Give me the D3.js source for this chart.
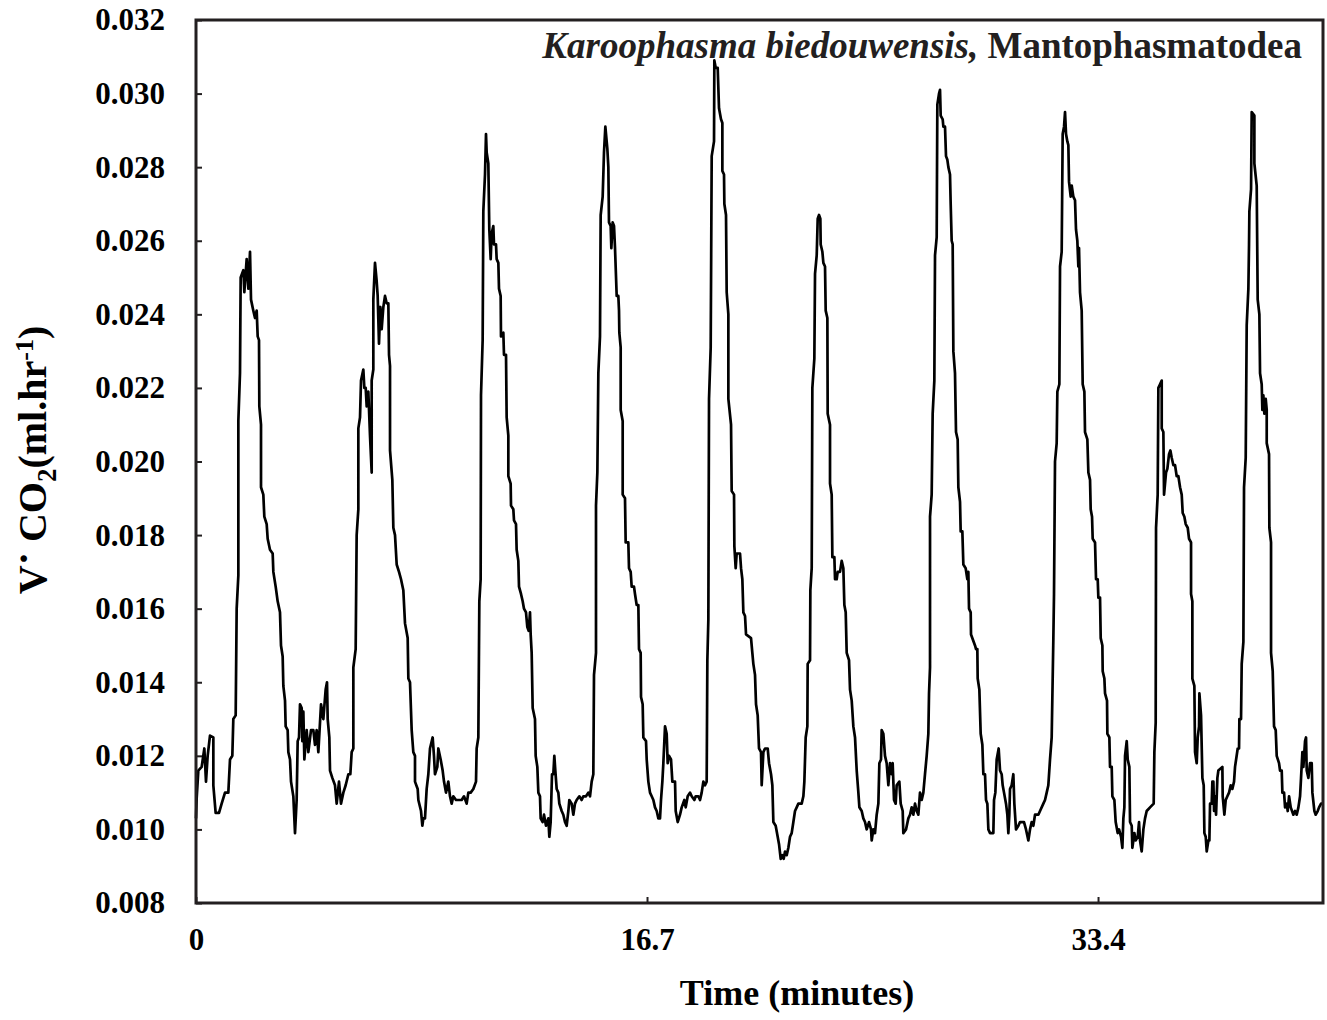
<!DOCTYPE html>
<html>
<head>
<meta charset="utf-8">
<script src="https://cdn.jsdelivr.net/npm/d3@7"></script>
<style>
  body { margin: 0; background: #fff; }
  svg { display: block; }
</style>
</head>
<body>
<svg id="chart" width="1327" height="1020"></svg>
<script>
// Axis ticks and labels
const xTicks = [0, 16.7, 33.4];
const xTickLabels = ["0", "16.7", "33.4"];
const yTicks = [0.008, 0.010, 0.012, 0.014, 0.016, 0.018, 0.020, 0.022, 0.024, 0.026, 0.028, 0.030, 0.032];
const yTickLabels = ["0.008", "0.010", "0.012", "0.014", "0.016", "0.018", "0.020", "0.022", "0.024", "0.026", "0.028", "0.030", "0.032"];
const xDomain = [0, 41.73];
const yDomain = [0.008, 0.032];

// CO2 emission trace: [time (minutes), VCO2 (ml/hr)]
const trace = [
  [0,0.0103],[0.025,0.01085],[0.086,0.0116],[0.210,0.0117],[0.309,0.0122],[0.370,0.0113],[0.432,0.0120],[0.518,0.01255],
  [0.642,0.0125],[0.642,0.0112],[0.728,0.01045],[0.852,0.01045],[0.950,0.0107],[1.074,0.0110],[1.197,0.0110],[1.259,0.0119],
  [1.345,0.0120],[1.382,0.0130],[1.469,0.0131],[1.506,0.0160],[1.568,0.0169],[1.568,0.0211],[1.629,0.0224],[1.654,0.0250],
  [1.753,0.0252],[1.790,0.0246],[1.876,0.0255],[1.938,0.0247],[2.000,0.0257],[2.037,0.0244],[2.123,0.0241],[2.185,0.0239],
  [2.247,0.0241],[2.284,0.0234],[2.333,0.0233],[2.345,0.0215],[2.407,0.0210],[2.407,0.0193],[2.493,0.0191],[2.530,0.0185],
  [2.617,0.0183],[2.654,0.0179],[2.740,0.0176],[2.839,0.0175],[2.864,0.0170],[2.950,0.0166],[3.024,0.0162],[3.110,0.0159],
  [3.147,0.0150],[3.209,0.0147],[3.234,0.0139],[3.296,0.0135],[3.320,0.0128],[3.394,0.0127],[3.419,0.0121],[3.481,0.0119],
  [3.518,0.0113],[3.604,0.0109],[3.666,0.0099],[3.727,0.0108],[3.765,0.0124],[3.814,0.0125],[3.851,0.0134],[3.913,0.0133],
  [3.937,0.0124],[3.975,0.0132],[4.012,0.0119],[4.098,0.0127],[4.160,0.0121],[4.258,0.0127],[4.345,0.0127],[4.406,0.0123],
  [4.468,0.0127],[4.530,0.0121],[4.629,0.0134],[4.715,0.0130],[4.801,0.0138],[4.851,0.0140],[4.876,0.0130],[4.937,0.0125],
  [4.962,0.0116],[5.048,0.0114],[5.147,0.0112],[5.209,0.0107],[5.295,0.0113],[5.369,0.0107],[5.456,0.0110],[5.542,0.0112],
  [5.641,0.0115],[5.715,0.0115],[5.764,0.0121],[5.826,0.0122],[5.826,0.0144],[5.912,0.0149],[5.949,0.0180],[6.011,0.0187],
  [6.011,0.0209],[6.073,0.0212],[6.110,0.0222],[6.196,0.0225],[6.233,0.0220],[6.283,0.0220],[6.320,0.0215],[6.381,0.0219],
  [6.443,0.0207],[6.505,0.0197],[6.505,0.0222],[6.566,0.0225],[6.566,0.0244],[6.628,0.0254],[6.690,0.0249],[6.727,0.0245],
  [6.776,0.0232],[6.826,0.0242],[6.875,0.0236],[6.937,0.0242],[6.999,0.0245],[7.060,0.0243],[7.122,0.0243],[7.147,0.0229],
  [7.184,0.0226],[7.184,0.0203],[7.270,0.0195],[7.307,0.0182],[7.369,0.0180],[7.431,0.0172],[7.517,0.0170],[7.591,0.0168],
  [7.677,0.0165],[7.739,0.0156],[7.838,0.0152],[7.863,0.0141],[7.924,0.0140],[7.986,0.0127],[8.047,0.0121],[8.109,0.0120],
  [8.109,0.0113],[8.208,0.0111],[8.233,0.0108],[8.332,0.0105],[8.381,0.0101],[8.418,0.0103],
  [8.479,0.0103],[8.541,0.0111],[8.603,0.0115],[8.664,0.0122],[8.763,0.0125],[8.812,0.0120],[8.849,0.0115],[8.936,0.0117],
  [8.973,0.0122],[9.059,0.0119],[9.133,0.0116],[9.183,0.0113],[9.257,0.0110],[9.343,0.0113],[9.405,0.0109],[9.467,0.0107],
  [9.528,0.0109],[9.627,0.0108],[9.713,0.0108],[9.837,0.0108],[9.923,0.0109],[10.022,0.0107],[10.084,0.0110],[10.170,0.0110],
  [10.269,0.0111],[10.368,0.0113],[10.392,0.0122],[10.454,0.0125],[10.491,0.0162],[10.540,0.0168],[10.553,0.0218],[10.614,0.0233],
  [10.639,0.0268],[10.701,0.0278],[10.738,0.0289],[10.763,0.0284],[10.824,0.0281],[10.861,0.0263],[10.911,0.0255],[10.948,0.0262],
  [11.009,0.0264],[11.034,0.0259],[11.108,0.0259],[11.133,0.0255],[11.195,0.0254],[11.219,0.0247],[11.281,0.0245],[11.293,0.0234],
  [11.380,0.0235],[11.404,0.0229],[11.479,0.0229],[11.503,0.0212],[11.565,0.0207],[11.565,0.0196],[11.651,0.0194],[11.664,0.0188],
  [11.750,0.0187],[11.775,0.0184],[11.849,0.0183],[11.873,0.0176],[11.935,0.0173],[11.960,0.0166],[12.034,0.0164],[12.096,0.0162],
  [12.145,0.0160],[12.219,0.0159],[12.268,0.0155],[12.318,0.0154],[12.367,0.0159],[12.392,0.0153],[12.429,0.0148],[12.466,0.0133],
  [12.552,0.0130],[12.577,0.0120],[12.639,0.0117],[12.676,0.0110],[12.737,0.0109],[12.762,0.0103],[12.836,0.0102],[12.886,0.0104],
  [12.960,0.0101],[13.046,0.0103],[13.083,0.0098],[13.132,0.0102],[13.182,0.0115],[13.231,0.0115],[13.268,0.0120],[13.305,0.0116],
  [13.355,0.0111],[13.416,0.0110],[13.453,0.0107],[13.540,0.0105],[13.601,0.0104],[13.663,0.0102],[13.725,0.0101],[13.787,0.0105],
  [13.824,0.0108],[13.910,0.0107],[13.972,0.0104],[14.033,0.0107],[14.095,0.0108],[14.194,0.0109],[14.280,0.0108],[14.342,0.0109],
  [14.441,0.0109],[14.527,0.0110],[14.589,0.0109],[14.651,0.0113],[14.712,0.0115],[14.737,0.0142],[14.811,0.0148],[14.811,0.0188],
  [14.861,0.0197],[14.898,0.0224],[14.959,0.0234],[14.984,0.0267],[15.058,0.0272],[15.107,0.0284],[15.157,0.0291],[15.231,0.0285],
  [15.268,0.0280],[15.292,0.0265],[15.354,0.0264],[15.379,0.0258],[15.428,0.0265],[15.478,0.0264],[15.515,0.0258],[15.577,0.0245],
  [15.638,0.0245],[15.663,0.0241],[15.675,0.0235],[15.725,0.0231],[15.725,0.0214],[15.799,0.0211],[15.799,0.0191],[15.885,0.0190],
  [15.910,0.0178],[16.008,0.0178],[16.033,0.0171],[16.095,0.0170],[16.132,0.0166],[16.218,0.0166],[16.255,0.0164],[16.317,0.0161],
  [16.379,0.0161],[16.403,0.0149],[16.465,0.0148],[16.478,0.0136],[16.539,0.0134],[16.564,0.0125],[16.663,0.0124],
  [16.688,0.0119],[16.749,0.0113],[16.811,0.0110],[16.873,0.0109],[16.935,0.0108],[16.996,0.0106],[17.058,0.0105],[17.120,0.0103],
  [17.181,0.0103],[17.218,0.0108],[17.268,0.0113],[17.305,0.0118],[17.367,0.0128],[17.428,0.0126],[17.465,0.0118],[17.515,0.0120],
  [17.589,0.0119],[17.638,0.0113],[17.737,0.0113],[17.762,0.0105],[17.836,0.0102],[17.922,0.0104],[17.984,0.0106],[18.082,0.0108],
  [18.132,0.0106],[18.206,0.0109],[18.292,0.0110],[18.354,0.0109],[18.453,0.0108],[18.502,0.0109],[18.601,0.0109],[18.663,0.0108],
  [18.724,0.0110],[18.786,0.0113],[18.848,0.0112],[18.909,0.0113],[18.934,0.0146],[18.971,0.0157],[18.996,0.0217],[19.058,0.0231],
  [19.095,0.0283],[19.181,0.0287],[19.193,0.0309],[19.243,0.0307],[19.317,0.0307],[19.366,0.0296],[19.440,0.0293],[19.490,0.0292],
  [19.490,0.0279],[19.551,0.0278],[19.564,0.0270],[19.625,0.0267],[19.650,0.0246],[19.712,0.0240],[19.712,0.0217],[19.811,0.0210],
  [19.835,0.0192],[19.922,0.0191],[19.934,0.0177],[19.983,0.0171],[20.020,0.0175],[20.144,0.0175],[20.181,0.0171],[20.230,0.0168],
  [20.267,0.0159],[20.329,0.0158],[20.366,0.0153],[20.551,0.0152],[20.600,0.0148],[20.637,0.0145],[20.699,0.0142],[20.736,0.0134],
  [20.798,0.0131],[20.847,0.0122],[20.921,0.0121],[20.946,0.0112],[21.008,0.0121],[21.069,0.0122],[21.168,0.0122],[21.218,0.0118],
  [21.292,0.0115],[21.341,0.0112],[21.378,0.0102],[21.464,0.0101],[21.538,0.0098],[21.588,0.0096],[21.650,0.0092],[21.711,0.0093],
  [21.761,0.0092],[21.810,0.0094],[21.872,0.0093],[21.934,0.0095],[21.995,0.0098],[22.057,0.0099],[22.119,0.0102],[22.180,0.0105],
  [22.242,0.0106],[22.304,0.0107],[22.427,0.0107],[22.489,0.0109],[22.526,0.0113],[22.575,0.0125],[22.637,0.0128],[22.649,0.0145],
  [22.736,0.0146],[22.748,0.0165],[22.798,0.0171],[22.822,0.0220],[22.896,0.0228],[22.921,0.0251],[22.983,0.0256],[23.020,0.0266],
  [23.069,0.0267],[23.118,0.0266],[23.131,0.0259],[23.193,0.0257],[23.230,0.0254],[23.291,0.0253],[23.316,0.0241],[23.378,0.0239],
  [23.390,0.0213],[23.476,0.0210],[23.476,0.0194],[23.538,0.0191],[23.563,0.0174],[23.637,0.0174],[23.662,0.0168],[23.723,0.0168],
  [23.760,0.0170],[23.847,0.0170],[23.908,0.0173],[23.970,0.0171],[24.007,0.0161],[24.057,0.0159],[24.094,0.0148],[24.180,0.0146],
  [24.217,0.0138],[24.279,0.0135],[24.340,0.0128],[24.402,0.0125],[24.464,0.0116],[24.526,0.0110],[24.563,0.0106],[24.649,0.0105],
  [24.710,0.0103],[24.772,0.0102],[24.834,0.0100],[24.920,0.0102],[24.995,0.0100],
  [25.019,0.0097],[25.080,0.0100],[25.142,0.0099],[25.204,0.0104],[25.266,0.0107],[25.303,0.0118],[25.364,0.0119],[25.389,0.0127],
  [25.451,0.0126],[25.512,0.0120],[25.574,0.0118],[25.636,0.0112],[25.698,0.0118],[25.759,0.0115],[25.796,0.0118],[25.846,0.0108],
  [25.907,0.0107],[25.944,0.0112],[26.043,0.0113],[26.093,0.0107],[26.167,0.0105],[26.191,0.0099],[26.290,0.0100],[26.376,0.0103],
  [26.438,0.0104],[26.500,0.0106],[26.562,0.0104],[26.623,0.0107],[26.685,0.0105],[26.747,0.0104],[26.808,0.0110],[26.870,0.0108],
  [26.932,0.0110],[26.993,0.0115],[27.055,0.0120],[27.117,0.0126],[27.142,0.0137],[27.179,0.0144],[27.179,0.0185],[27.240,0.0191],
  [27.277,0.0213],[27.339,0.0222],[27.364,0.0256],[27.426,0.0261],[27.450,0.0297],[27.512,0.0300],[27.549,0.0301],[27.574,0.0294],
  [27.648,0.0293],[27.673,0.0291],[27.734,0.0291],[27.771,0.0283],[27.821,0.0282],[27.858,0.0280],[27.919,0.0278],[27.944,0.0270],
  [27.981,0.0260],[28.018,0.0259],[28.043,0.0230],[28.104,0.0224],[28.141,0.0208],[28.203,0.0206],[28.228,0.0193],[28.290,0.0189],
  [28.314,0.0181],[28.376,0.0181],[28.413,0.0172],[28.499,0.0171],[28.561,0.0168],[28.598,0.0170],[28.623,0.0160],[28.685,0.0159],
  [28.697,0.0153],[28.845,0.0150],[28.882,0.0149],[28.931,0.0149],[28.944,0.0141],[29.006,0.0138],[29.055,0.0126],[29.117,0.0123],
  [29.154,0.0115],[29.215,0.0115],[29.252,0.0108],[29.302,0.0107],[29.339,0.0100],[29.401,0.0099],[29.524,0.0099],[29.549,0.0108],
  [29.598,0.0110],[29.647,0.0119],[29.721,0.0122],[29.771,0.0116],[29.832,0.0115],[29.869,0.0112],[29.919,0.0110],[29.993,0.0107],
  [30.042,0.0104],[30.079,0.0099],[30.116,0.0104],[30.141,0.0111],[30.203,0.0112],[30.264,0.0115],[30.301,0.0107],[30.363,0.0100],
  [30.450,0.0101],[30.511,0.0102],[30.659,0.0102],[30.733,0.0100],[30.820,0.0097],[30.882,0.0100],[30.943,0.0102],[31.005,0.0101],
  [31.067,0.0104],[31.190,0.0104],[31.252,0.0105],[31.375,0.0107],[31.437,0.0108],[31.499,0.0110],[31.560,0.0112],[31.622,0.0119],
  [31.684,0.0125],[31.746,0.0152],[31.770,0.0164],[31.807,0.0200],[31.869,0.0205],[31.894,0.0219],[31.968,0.0221],[31.993,0.0253],
  [32.054,0.0257],[32.091,0.0289],[32.141,0.0291],[32.178,0.0295],[32.215,0.0289],[32.264,0.0287],[32.301,0.0286],[32.326,0.0276],
  [32.388,0.0272],[32.425,0.0275],[32.486,0.0272],[32.548,0.0271],[32.585,0.0263],[32.634,0.0260],[32.671,0.0253],[32.696,0.0258],
  [32.733,0.0246],[32.795,0.0241],[32.832,0.0221],[32.894,0.0219],[32.918,0.0208],[33.005,0.0206],[33.042,0.0197],[33.104,0.0195],
  [33.128,0.0187],[33.178,0.0185],[33.202,0.0179],[33.289,0.0178],
  [33.326,0.0168],[33.388,0.0168],[33.412,0.0163],[33.474,0.0163],[33.499,0.0152],[33.561,0.0150],[33.573,0.0143],[33.635,0.0141],
  [33.659,0.0137],[33.733,0.0135],[33.746,0.0126],[33.820,0.0125],[33.844,0.0117],[33.906,0.0117],[33.931,0.0109],[34.005,0.0108],
  [34.054,0.0102],[34.128,0.0099],[34.178,0.0100],[34.252,0.0098],[34.301,0.0095],[34.338,0.0103],[34.375,0.0106],[34.400,0.0120],
  [34.462,0.0124],[34.499,0.0119],[34.560,0.0117],[34.585,0.0102],[34.647,0.0101],[34.671,0.0095],[34.746,0.0099],[34.795,0.0097],
  [34.869,0.0098],[34.918,0.0102],[34.955,0.0097],[35.017,0.0094],[35.079,0.0100],[35.140,0.0103],[35.202,0.0105],[35.326,0.0106],
  [35.461,0.0107],[35.486,0.0121],[35.535,0.0129],[35.548,0.0182],[35.609,0.0191],[35.634,0.0220],[35.696,0.0221],[35.758,0.0222],
  [35.758,0.0209],[35.819,0.0208],[35.844,0.0191],[35.881,0.0194],[35.918,0.0197],[35.967,0.0198],[36.029,0.0202],[36.079,0.0203],
  [36.128,0.0201],[36.190,0.0199],[36.252,0.0199],[36.313,0.0196],[36.375,0.0196],[36.437,0.0193],[36.498,0.0191],[36.535,0.0186],
  [36.597,0.0185],[36.646,0.0183],[36.721,0.0182],[36.770,0.0179],[36.844,0.0178],[36.844,0.0164],[36.893,0.0162],[36.893,0.0141],
  [36.967,0.0139],[36.992,0.0121],[37.054,0.0118],[37.091,0.0125],[37.140,0.0128],[37.153,0.0137],[37.214,0.0131],[37.264,0.0114],
  [37.313,0.0112],[37.338,0.0099],[37.387,0.0098],[37.424,0.0094],[37.486,0.0097],[37.523,0.0097],[37.548,0.0107],[37.609,0.0107],
  [37.634,0.0113],[37.671,0.0113],[37.696,0.0105],[37.733,0.0109],[37.770,0.0104],[37.819,0.0114],[37.856,0.0116],[38.004,0.0117],
  [38.016,0.0109],[38.078,0.0104],[38.128,0.0108],[38.189,0.0109],[38.251,0.0110],[38.313,0.0112],[38.374,0.0111],[38.436,0.0113],
  [38.473,0.0117],[38.572,0.0122],[38.621,0.0122],[38.634,0.0130],[38.695,0.0130],[38.720,0.0145],[38.782,0.0151],[38.806,0.0193],
  [38.868,0.0201],[38.905,0.0237],[38.967,0.0247],[38.991,0.0259],[39.004,0.0268],[39.066,0.0274],[39.090,0.0295],[39.189,0.0294],
  [39.189,0.0281],[39.275,0.0275],[39.312,0.0244],[39.374,0.0240],[39.399,0.0224],[39.460,0.0221],[39.485,0.0214],[39.522,0.0218],
  [39.559,0.0213],[39.609,0.0217],[39.646,0.0214],[39.646,0.0205],[39.732,0.0202],[39.744,0.0182],[39.806,0.0178],[39.806,0.0148],
  [39.868,0.0143],[39.917,0.0128],[39.979,0.0127],[40.016,0.0120],[40.102,0.0118],[40.139,0.0116],[40.201,0.0116],[40.226,0.0110],
  [40.288,0.0110],[40.325,0.0106],[40.386,0.0107],[40.423,0.0105],[40.473,0.0109],[40.535,0.0106],[40.633,0.0104],[40.695,0.0105],
  [40.757,0.0104],[40.819,0.0106],[40.880,0.0109],[40.917,0.0114],[40.967,0.0121],[41.004,0.0117],[41.065,0.0124],[41.102,0.0125],
  [41.127,0.0116],[41.189,0.0114],[41.250,0.0118],[41.312,0.0118],[41.337,0.0110],[41.411,0.0105],[41.460,0.0104],[41.534,0.0105],
  [41.584,0.0106],[41.658,0.0107],[41.732,0.0107]
];

const W = 1327, H = 1020;
const plot = { left: 196, top: 20, right: 1323, bottom: 903 };
const serif = "'Liberation Serif', 'Times New Roman', Times, serif";
const ink = "#231f20";

const svg = d3.select("#chart");

const x = d3.scaleLinear().domain(xDomain).range([plot.left, plot.right]);
const y = d3.scaleLinear().domain(yDomain).range([plot.bottom, plot.top]);

// Y axis: ticks pointing into the plot
const yAxis = d3.axisLeft(y)
  .tickValues(yTicks)
  .tickFormat((d, i) => yTickLabels[i])
  .tickSize(-6)
  .tickPadding(31);
const gy = svg.append("g").attr("transform", `translate(${plot.left},0)`).call(yAxis);
gy.select(".domain").remove();
gy.selectAll(".tick line").attr("stroke", ink).attr("stroke-width", 2);
gy.selectAll(".tick text")
  .attr("fill", "#000")
  .style("font-family", serif)
  .style("font-weight", "bold")
  .style("font-size", "31px");

// X axis: ticks pointing into the plot
const xAxis = d3.axisBottom(x)
  .tickValues(xTicks)
  .tickFormat((d, i) => xTickLabels[i])
  .tickSize(-6)
  .tickPadding(25);
const gx = svg.append("g").attr("transform", `translate(0,${plot.bottom})`).call(xAxis);
gx.select(".domain").remove();
gx.selectAll(".tick line").attr("stroke", ink).attr("stroke-width", 2);
gx.selectAll(".tick text")
  .attr("fill", "#000")
  .style("font-family", serif)
  .style("font-weight", "bold")
  .style("font-size", "31px");

// Trace
const line = d3.line().x(d => x(d[0])).y(d => y(d[1]));
svg.append("path")
  .datum(trace)
  .attr("d", line)
  .attr("fill", "none")
  .attr("stroke", "#000")
  .attr("stroke-width", 2.7)
  .attr("stroke-linejoin", "round");

// Plot frame
svg.append("rect")
  .attr("x", plot.left).attr("y", plot.top)
  .attr("width", plot.right - plot.left).attr("height", plot.bottom - plot.top)
  .attr("fill", "none").attr("stroke", ink).attr("stroke-width", 3);

// Species label
const title = svg.append("text")
  .attr("x", 1302).attr("y", 58)
  .attr("text-anchor", "end")
  .style("font-family", serif).style("font-weight", "bold").style("font-size", "37px")
  .attr("fill", ink);
title.append("tspan").style("font-style", "italic").text("Karoophasma biedouwensis,");
title.append("tspan").text(" Mantophasmatodea");

// X axis title
svg.append("text")
  .attr("x", 797).attr("y", 1005)
  .attr("text-anchor", "middle")
  .style("font-family", serif).style("font-weight", "bold").style("font-size", "36px")
  .attr("fill", "#000")
  .text("Time (minutes)");

// Y axis title
const yt = svg.append("text")
  .attr("transform", "translate(46,460) rotate(-90)")
  .attr("text-anchor", "middle")
  .style("font-family", serif).style("font-weight", "bold").style("font-size", "40px")
  .attr("fill", "#000");
yt.append("tspan").text("V");
yt.append("tspan").attr("dy", -9).text("\u00B7");
yt.append("tspan").attr("dy", 9).text(" CO");
yt.append("tspan").attr("dy", 10).style("font-size", "27px").text("2");
yt.append("tspan").attr("dy", -10).text("(ml.hr");
yt.append("tspan").attr("dy", -13).style("font-size", "26px").text("-1");
yt.append("tspan").attr("dy", 13).text(")");
</script>
</body>
</html>
